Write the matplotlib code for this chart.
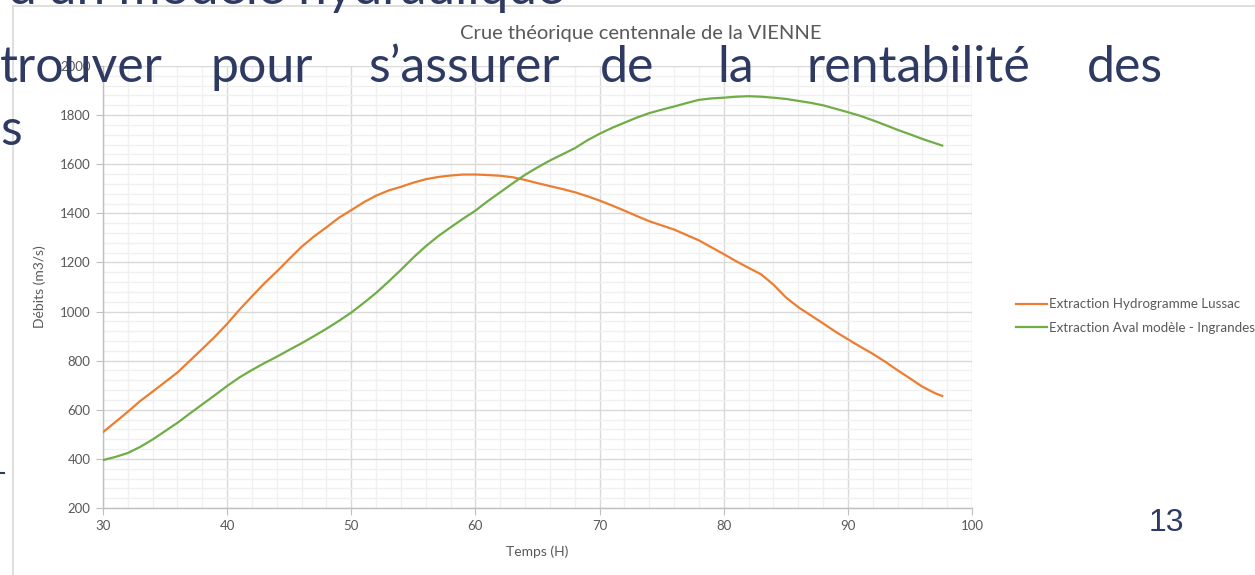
import matplotlib

matplotlib.use("Agg")
import matplotlib.pyplot as plt
from matplotlib.ticker import MultipleLocator
from matplotlib.lines import Line2D

W, H = 1255, 575

hours = [30, 31, 32, 33, 34, 35, 36, 37, 38, 39,
         40, 41, 42, 43, 44, 45, 46, 47, 48, 49,
         50, 51, 52, 53, 54, 55, 56, 57, 58, 59,
         60, 61, 62, 63, 64, 65, 66, 67, 68, 69,
         70, 71, 72, 73, 74, 75, 76, 77, 78, 79,
         80, 81, 82, 83, 84, 85, 86, 87, 88, 89,
         90, 91, 92, 93, 94, 95, 96, 97, 97.6]

lussac = [509, 550, 592, 636, 674, 713, 752, 800, 848, 897,
          950, 1008, 1062, 1115, 1163, 1214, 1264, 1306, 1343, 1382,
          1413, 1445, 1472, 1493, 1508, 1525, 1539, 1548, 1554, 1558,
          1558, 1556, 1553, 1547, 1536, 1523, 1511, 1499, 1486, 1470,
          1452, 1432, 1411, 1389, 1368, 1351, 1334, 1312, 1290, 1262,
          1234, 1205, 1178, 1152, 1110, 1058, 1018, 985, 952, 918,
          887, 857, 828, 796, 761, 728, 694, 668, 656]

ingrandes = [395, 408, 424, 449, 479, 513, 547, 585, 622, 659,
             697, 732, 762, 790, 816, 844, 871, 900, 930, 962,
             996, 1035, 1076, 1122, 1170, 1220, 1266, 1307, 1343, 1378,
             1411, 1450, 1486, 1522, 1557, 1587, 1615, 1640, 1665, 1697,
             1724, 1748, 1769, 1790, 1808, 1822, 1835, 1849, 1862, 1868,
             1871, 1875, 1877, 1875, 1871, 1866, 1858, 1850, 1840, 1826,
             1812, 1797, 1779, 1760, 1740, 1722, 1703, 1686, 1676]

series_names = ["Extraction Hydrogramme Lussac", "Extraction Aval modèle - Ingrandes"]
series_colors = ["#ED7D31", "#70AD47"]

slide_line1 = "d\u2019un modèle hydraulique"
slide_words = ["trouver", "pour", "s\u2019assurer", "de", "la", "rentabilité", "des"]
slide_word_x = [0, 210, 368, 600, 717, 807, 1087]
slide_line3 = "s"
page_number = "13"

TXT = "#595959"
NAVY = "#2e3a62"
FONT = ["Lato", "DejaVu Sans"]


def fx(x):
    return x / W


def fy(y):
    return 1 - y / H


fig = plt.figure(figsize=(W / 100, H / 100), dpi=100)
fig.patch.set_facecolor("white")

# slide/chart frame lines
fig.add_artist(Line2D([fx(13), 1], [fy(6), fy(6)], color="#d9d9d9", lw=1.2))
fig.add_artist(Line2D([fx(13), fx(13)], [fy(6), 0], color="#d9d9d9", lw=1.2))

ax = fig.add_axes([fx(103), fy(508), fx(972) - fx(103), fy(66) - fy(508)])
for name, vals, col in zip(series_names, [lussac, ingrandes], series_colors):
    ax.plot(hours, vals, color=col, lw=1.6, label=name, zorder=3)

ax.set_xlim(30, 100)
ax.set_ylim(200, 2000)
ax.xaxis.set_major_locator(MultipleLocator(10))
ax.xaxis.set_minor_locator(MultipleLocator(2))
ax.yaxis.set_major_locator(MultipleLocator(200))
ax.yaxis.set_minor_locator(MultipleLocator(40))
ax.grid(which="major", color="#d9d9d9", lw=1.0)
ax.grid(which="minor", color="#f0f0f0", lw=1.0)
ax.set_axisbelow(True)
for side in ["top", "right"]:
    ax.spines[side].set_visible(False)
for side in ["left", "bottom"]:
    ax.spines[side].set_color("#bfbfbf")
    ax.spines[side].set_linewidth(1.0)
ax.tick_params(which="major", length=5, color="#bfbfbf", labelcolor=TXT, labelsize=9.5, pad=4)
ax.tick_params(which="minor", length=0)
for lab in ax.get_xticklabels() + ax.get_yticklabels():
    lab.set_family(FONT)

ax.set_xlabel("Temps (H)", color=TXT, fontsize=10, family=FONT, labelpad=9)
ax.set_ylabel("Débits (m3/s)", color=TXT, fontsize=10, family=FONT, labelpad=10)

fig.text(fx(641), fy(33), "Crue théorique centennale de la VIENNE", color=TXT,
         fontsize=14.5, family=FONT, ha="center", va="center")

ax.legend(loc="center left", bbox_to_anchor=(fx(1004), fy(316)), bbox_transform=fig.transFigure,
          frameon=False, handlelength=2.3, handletextpad=0.15, labelspacing=0.85,
          labelcolor=TXT, prop={"family": FONT, "size": 9.6})

# slide text overlaid on the chart
fig.text(fx(8), fy(4), slide_line1, color=NAVY, fontsize=37, family=FONT, ha="left", va="baseline")
for word, x in zip(slide_words, slide_word_x):
    fig.text(fx(x), fy(82), word, color=NAVY, fontsize=36, family=FONT, ha="left", va="baseline")
fig.text(fx(0), fy(145), slide_line3, color=NAVY, fontsize=36, family=FONT, ha="left", va="baseline")
fig.text(fx(1166), fy(531), page_number, color=NAVY, fontsize=23, family=["Liberation Sans", "DejaVu Sans"],
         ha="center", va="baseline")
fig.add_artist(Line2D([0, fx(4)], [fy(473), fy(473)], color=NAVY, lw=1.5))

fig.savefig("out.png", dpi=100)
